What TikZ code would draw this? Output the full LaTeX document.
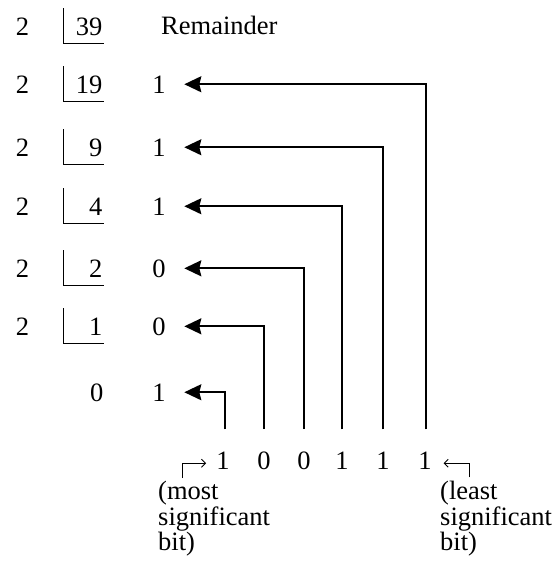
\documentclass[tikz,border=0pt]{standalone}
\usepackage{fontspec}
\setmainfont{Liberation Serif}
\usetikzlibrary{arrows.meta}
\begin{document}
\begin{tikzpicture}[x=1pt,y=-1pt,
  txt/.style={inner sep=0pt, font=\fontsize{26.5}{23.7}\selectfont},
  bigarrow/.style={line width=1.8pt, -{Stealth[length=17pt,width=16pt,inset=2pt]}},
  smallarrow/.style={line width=1pt, -{Straight Barb[length=4pt,width=8pt]}},
  bracket/.style={line width=1.5pt}]
\useasboundingbox (0,0) rectangle (557,574);
% division column
\foreach \n/\d/\b in {a/39/35, b/19/93, c/9/156, d/4/215, e/2/277, f/1/335} {
  \node[txt, anchor=base] (two\n) at (22.5,\b) {2};
  \node[txt, anchor=base east] (dv\n) at (102.5,\b) {\d};
  \draw[bracket] (63.3,\b-27) -- (63.3,\b+8.5) -- (104,\b+8.5);
}
\node[txt, anchor=base] (q0) at (96.7,401) {0};
\node[txt, anchor=base west] (rem) at (161,34.3) {Remainder};
% remainders
\foreach \n/\d/\b in {1/1/93, 2/1/156, 3/1/215, 4/0/277, 5/0/335, 6/1/401} {
  \node[txt, anchor=base] (r\n) at (159,\b) {\d};
}
% bottom digits
\foreach \n/\d/\x in {1/1/223, 2/0/264, 3/0/304, 4/1/342, 5/1/383, 6/1/425} {
  \node[txt, anchor=base] (b\n) at (\x,469) {\d};
}
% connectors
\draw[bigarrow] ([xshift=2pt,yshift=22pt]b1.north) |- ([xshift=18.5pt]r6.east);
\draw[bigarrow] ([yshift=22pt]b2.north) |- ([xshift=18.5pt]r5.east);
\draw[bigarrow] ([yshift=22pt]b3.north) |- ([xshift=18.5pt]r4.east);
\draw[bigarrow] ([yshift=22pt]b4.north) |- ([xshift=18.5pt]r3.east);
\draw[bigarrow] ([yshift=22pt]b5.north) |- ([xshift=18.5pt]r2.east);
\draw[bigarrow] ([xshift=0.7pt,yshift=22pt]b6.north) |- ([xshift=18.5pt]r1.east);
% msb / lsb markers
\coordinate (msb) at (182.7,478);
\coordinate (lsb) at (469,477.3);
\draw[smallarrow] (msb) |- ([xshift=-10pt,yshift=-3pt]b1.west);
\draw[smallarrow] (lsb) |- ([xshift=11.7pt,yshift=-3pt]b6.east);
\node[txt, anchor=base west, align=left] (msl) at (158,550.1) {(most\\significant\\bit)};
\node[txt, anchor=base west, align=left] (lsl) at (440,550.1) {(least\\significant\\bit)};
\end{tikzpicture}
\end{document}
